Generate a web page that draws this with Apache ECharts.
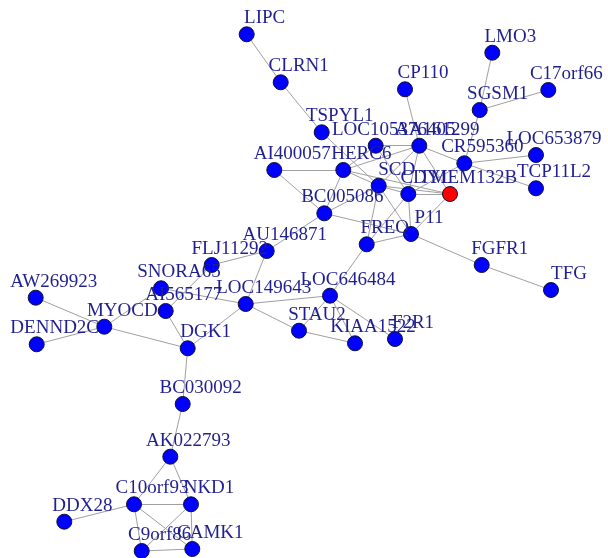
<!DOCTYPE html>
<html>
<head>
<meta charset="utf-8">
<script src="https://cdn.jsdelivr.net/npm/echarts@6/dist/echarts.min.js"></script>
<style>html,body{margin:0;padding:0;background:#fff;}#c{width:608px;height:558px;}</style>
</head>
<body>
<div id="c"></div>
<script>
const nodeNames = ["LIPC","CLRN1","CP110","LMO3","C17orf66","SGSM1","TSPYL1","LOC105376405","AA161299","LOC653879","CR595360","AI400057","HERC6","TCP11L2","SCD","CDYL","TMEM132B","BC005086","P11","FGFR1","TFG","AU146871","FLJ11292","SNORA65","AI565177","LOC149643","FREQ","LOC646484","STAU2","KIAA1522","F2R1","MYOCD","AW269923","DENND2C","DGK1","BC030092","AK022793","C10orf93","NKD1","DDX28","C9orf86","CAMK1"];
const nodeX = [246.7,280.7,405,492.3,548.3,479.7,321.7,375.7,419.3,536,464.3,274.3,343.3,536,378.7,408.3,450,324.3,411,481.7,551,266.7,211.7,161,165.7,245.7,366.7,330,299,355,395,104.3,35.7,36.7,187.7,182.7,170.3,134,191,64.3,141.7,192.3];
const nodeY = [34.3,82.3,89.3,52.7,90,110,132.3,145.7,145.7,155,163.3,170,170,188.3,185.7,194,194,213.3,234,265,290,251,265,288.3,311,304,244.3,295.7,330.7,343.3,339,326.7,297.7,344.3,348.3,404,456.7,504.3,504.3,521.7,551,549];
const highlighted = ["TMEM132B"];
const edgeList = [
  ["LIPC","CLRN1"],["CLRN1","TSPYL1"],["TSPYL1","SCD"],
  ["CP110","AA161299"],["LMO3","SGSM1"],["C17orf66","SGSM1"],["SGSM1","CR595360"],
  ["AA161299","LOC105376405"],["AA161299","CR595360"],["AA161299","HERC6"],["AA161299","SCD"],["AA161299","CDYL"],["AA161299","TMEM132B"],
  ["LOC105376405","HERC6"],["LOC105376405","CDYL"],
  ["CR595360","LOC653879"],["CR595360","TCP11L2"],["CR595360","CDYL"],
  ["AI400057","HERC6"],["AI400057","BC005086"],
  ["HERC6","BC005086"],["HERC6","SCD"],["HERC6","TMEM132B"],
  ["SCD","CDYL"],["SCD","TMEM132B"],["CDYL","TMEM132B"],
  ["BC005086","SCD"],["BC005086","AU146871"],["BC005086","P11"],
  ["SCD","FREQ"],["SCD","P11"],["CDYL","P11"],["CDYL","FREQ"],["TMEM132B","P11"],
  ["P11","FREQ"],["P11","FGFR1"],["FGFR1","TFG"],
  ["FREQ","LOC646484"],
  ["AU146871","FLJ11292"],["AU146871","LOC149643"],
  ["FLJ11292","AI565177"],["SNORA65","LOC149643"],["MYOCD","SNORA65"],
  ["AI565177","DGK1"],
  ["MYOCD","AW269923"],["MYOCD","DENND2C"],["MYOCD","DGK1"],
  ["LOC149643","DGK1"],["LOC149643","LOC646484"],["LOC149643","STAU2"],
  ["LOC646484","STAU2"],["LOC646484","KIAA1522"],["LOC646484","F2R1"],["STAU2","KIAA1522"],
  ["DGK1","BC030092"],["BC030092","AK022793"],
  ["AK022793","C10orf93"],["AK022793","NKD1"],
  ["C10orf93","NKD1"],["C10orf93","DDX28"],["C10orf93","C9orf86"],["C10orf93","CAMK1"],
  ["NKD1","CAMK1"],["NKD1","C9orf86"],["C9orf86","CAMK1"]
];

const nodes = nodeNames.map((n, i) => ({
  name: n,
  value: [nodeX[i], nodeY[i]],
  itemStyle: { color: highlighted.includes(n) ? '#ff0000' : '#0000ff' }
}));
const links = edgeList.map(e => ({ source: e[0], target: e[1] }));

const chart = echarts.init(document.getElementById('c'), null, { renderer: 'canvas' });
chart.setOption({
  backgroundColor: '#ffffff',
  animation: false,
  grid: { left: 0, right: 0, top: 0, bottom: 0 },
  xAxis: { type: 'value', min: 0, max: 608, show: false },
  yAxis: { type: 'value', min: 0, max: 558, inverse: true, show: false },
  series: [{
    type: 'graph',
    coordinateSystem: 'cartesian2d',
    layout: 'none',
    symbol: 'circle',
    symbolSize: 15,
    data: nodes,
    links: links,
    itemStyle: { borderColor: '#111133', borderWidth: 1 },
    lineStyle: { color: '#a0a0a0', width: 1, opacity: 1, curveness: 0 },
    label: {
      show: true,
      position: 'inside',
      offset: [18, -16],
      color: '#1f1f90',
      fontFamily: '"Liberation Serif", "Times New Roman", serif',
      fontSize: 19
    },
    emphasis: { disabled: true }
  }]
});
</script>
</body>
</html>
